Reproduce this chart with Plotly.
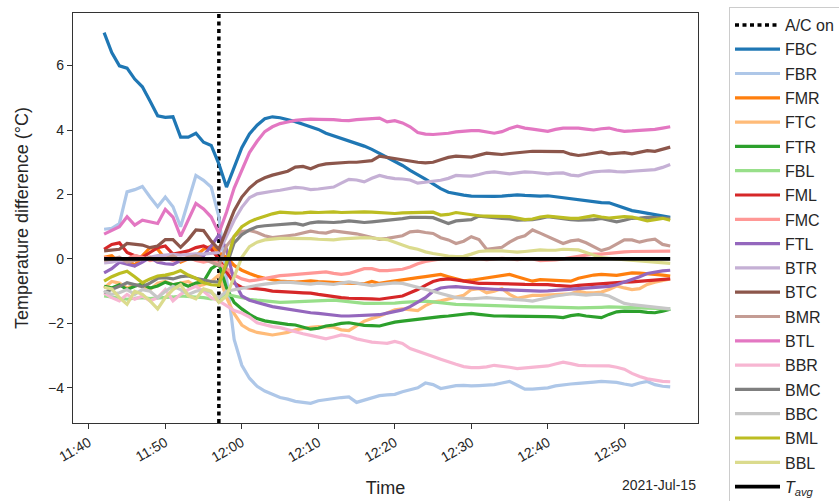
import pandas as pd
import plotly.graph_objects as go

# ---- data ----
start_time = "2021-07-15 11:42:00"
n_points = 75
ac_on_time = "2021-07-15 11:57:00"
date_label = "2021-Jul-15"

sensor_names = ["FBC", "FBR", "FMR", "FTC", "FTR", "FBL", "FML", "FMC", "FTL",
                "BTR", "BTC", "BMR", "BTL", "BBR", "BMC", "BBC", "BML", "BBL"]

sensor_colors = ["#1f77b4", "#aec7e8", "#ff7f0e", "#ffbb78", "#2ca02c", "#98df8a",
                 "#d62728", "#ff9896", "#9467bd", "#c5b0d5", "#8c564b", "#c49c94",
                 "#e377c2", "#f7b6d2", "#7f7f7f", "#c7c7c7", "#bcbd22", "#dbdb8d"]

tick_times = ["2021-07-15 11:40", "2021-07-15 11:50", "2021-07-15 12:00",
              "2021-07-15 12:10", "2021-07-15 12:20", "2021-07-15 12:30",
              "2021-07-15 12:40", "2021-07-15 12:50"]

FBC = [7.02, 6.4, 5.99, 5.92, 5.58, 5.34, 4.9, 4.44, 4.39, 4.41,
       3.78, 3.78, 3.9, 3.62, 3.52, 2.95, 2.23, 2.85, 3.45, 3.88,
       4.15, 4.35, 4.41, 4.38, 4.33, 4.26, 4.18, 4.1, 4.02, 3.9,
       3.82, 3.75, 3.68, 3.6, 3.5, 3.4, 3.28, 3.15, 3.04, 2.9,
       2.75, 2.62, 2.48, 2.33, 2.18, 2.07, 2.02, 1.98, 1.95, 1.94,
       1.94, 1.94, 1.95, 1.98, 1.99, 1.97, 1.95, 1.95, 1.96, 1.93,
       1.9, 1.86, 1.82, 1.79, 1.77, 1.75, 1.74, 1.66, 1.57, 1.5,
       1.46, 1.42, 1.37, 1.33, 1.29]
FBR = [0.92, 0.95, 1.1, 2.08, 2.15, 2.25, 1.92, 1.62, 1.92, 1.62,
       1.0, 1.8, 2.59, 2.44, 2.23, 1.31, -0.6, -2.5, -3.3, -3.7,
       -3.95, -4.1, -4.2, -4.3, -4.35, -4.42, -4.45, -4.48, -4.4, -4.36,
       -4.33, -4.3, -4.28, -4.45, -4.38, -4.3, -4.24, -4.22, -4.2, -4.12,
       -4.06, -4.0, -3.85, -3.9, -4.02, -3.98, -3.93, -3.92, -3.94, -3.93,
       -3.92, -3.9, -3.85, -3.8, -3.92, -4.04, -4.04, -4.03, -4.0, -3.94,
       -3.9, -3.88, -3.86, -3.85, -3.82, -3.8, -3.82, -3.83, -3.88, -3.92,
       -3.85, -3.8, -3.9, -3.95, -3.97]
FMR = [0.05, 0.1, -0.1, 0.0, -0.2, 0.1, 0.35, 0.3, 0.0, 0.1,
       -0.1, 0.0, 0.1, 0.3, 0.4, 0.2, 0.05, -0.2, -0.35, -0.45,
       -0.54, -0.6, -0.65, -0.69, -0.7, -0.72, -0.7, -0.68, -0.7, -0.72,
       -0.72, -0.74, -0.75, -0.76, -0.77, -0.7, -0.76, -0.72, -0.68, -0.66,
       -0.62, -0.58, -0.55, -0.52, -0.48, -0.55, -0.62, -0.68, -0.66, -0.62,
       -0.58, -0.55, -0.5, -0.48, -0.55, -0.62, -0.69, -0.64, -0.65, -0.66,
       -0.67, -0.69, -0.6, -0.54, -0.5, -0.48, -0.5, -0.51, -0.47, -0.43,
       -0.44, -0.45, -0.48, -0.5, -0.53]
FTC = [-0.9, -0.7, -0.75, -0.9, -0.8, -0.85, -0.95, -0.75, -0.7, -0.8,
       -0.75, -0.7, -0.85, -0.8, -0.7, -0.5, -1.2, -1.7, -2.05, -2.2,
       -2.28, -2.33, -2.36, -2.32, -2.28, -2.2, -2.15, -2.12, -2.1, -2.1,
       -2.12, -2.2, -2.22, -2.08, -1.93, -1.85, -1.78, -1.68, -1.58, -1.55,
       -1.58, -1.6, -1.45, -1.34, -1.3, -1.25, -1.18, -1.13, -0.95, -0.92,
       -1.05, -1.0, -0.92, -1.1, -1.22, -1.18, -1.13, -1.13, -1.12, -1.12,
       -1.1, -1.08, -1.0, -1.05, -1.05, -1.03, -0.95, -0.84, -0.9, -0.95,
       -0.92, -0.79, -0.72, -0.67, -0.62]
FTR = [-0.85, -0.9, -0.8, -0.95, -0.85, -0.78, -0.9, -0.84, -0.72, -0.8,
       -0.75, -0.85, -0.75, -0.7, -0.3, -0.15, -0.9, -1.35, -1.55, -1.72,
       -1.85, -1.92, -1.96, -2.0, -2.03, -2.05, -2.12, -2.18, -2.15, -2.08,
       -2.05, -2.0, -1.98, -2.02, -2.06, -2.07, -2.08, -2.02, -1.96, -1.93,
       -1.9, -1.86, -1.83, -1.81, -1.79, -1.77, -1.75, -1.72, -1.69, -1.72,
       -1.75, -1.77, -1.77, -1.77, -1.78, -1.77, -1.77, -1.78, -1.79, -1.8,
       -1.82, -1.76, -1.73, -1.77, -1.8, -1.82, -1.72, -1.64, -1.62, -1.62,
       -1.63, -1.66, -1.67, -1.62, -1.56]
FBL = [-1.15, -1.18, -1.2, -1.25, -1.22, -1.2, -1.23, -1.22, -1.2, -1.18,
       -1.15, -1.16, -1.18, -1.2, -1.24, -1.22, -1.1, -1.15, -1.22, -1.25,
       -1.28, -1.3, -1.33, -1.35, -1.34, -1.33, -1.31, -1.3, -1.29, -1.28,
       -1.28, -1.3, -1.33, -1.36, -1.38, -1.38, -1.38, -1.38, -1.37, -1.35,
       -1.33, -1.32, -1.31, -1.33, -1.36, -1.39, -1.41, -1.42, -1.43, -1.44,
       -1.45, -1.46, -1.47, -1.48, -1.49, -1.49, -1.49, -1.49, -1.49, -1.5,
       -1.5, -1.51, -1.52, -1.52, -1.51, -1.5, -1.49, -1.5, -1.51, -1.52,
       -1.53, -1.54, -1.55, -1.55, -1.55]
FML = [0.3, 0.45, 0.5, 0.2, 0.1, 0.05, 0.2, 0.35, 0.4, 0.15,
       0.2, 0.25, 0.35, 0.4, 0.3, 0.0, -0.4, -0.75, -0.88, -0.9,
       -0.92, -0.95, -1.0, -1.02, -1.03, -1.04, -1.05, -1.06, -1.1, -1.14,
       -1.16, -1.2, -1.22, -1.22, -1.23, -1.24, -1.25, -1.22, -1.2, -1.15,
       -1.05, -0.95, -0.82, -0.7, -0.64, -0.62, -0.65, -0.69, -0.73, -0.76,
       -0.76, -0.76, -0.76, -0.77, -0.78, -0.79, -0.79, -0.79, -0.8, -0.82,
       -0.84, -0.85, -0.82, -0.8, -0.79, -0.78, -0.76, -0.74, -0.72, -0.71,
       -0.69, -0.67, -0.65, -0.64, -0.62]
FMC = [0.05, 0.0, -0.05, 0.0, 0.1, 0.05, -0.05, 0.0, 0.05, -0.05,
       0.0, 0.05, -0.05, -0.1, -0.05, -0.15, -0.3, -0.5, -0.62, -0.68,
       -0.65, -0.6, -0.55, -0.52, -0.5, -0.48, -0.45, -0.43, -0.42, -0.4,
       -0.45, -0.48, -0.45, -0.38, -0.3, -0.3, -0.36, -0.36, -0.34, -0.32,
       -0.25, -0.15, -0.08, -0.03, 0.0, 0.02, 0.02, 0.0, 0.02, 0.0,
       -0.02, 0.0, 0.02, 0.0, -0.02, 0.0, 0.0, -0.05, -0.05, -0.03,
       0.0, 0.05, 0.08, 0.12, 0.15, 0.15, 0.18, 0.2, 0.22, 0.23,
       0.23, 0.24, 0.24, 0.24, 0.24]
FTL = [-0.43, -0.3, -0.1, -0.15, -0.22, -0.1, 0.05, -0.1, -0.15, -0.17,
       -0.05, 0.0, 0.05, 0.1, 0.4, 0.75, 0.3, -0.7, -1.15, -1.28,
       -1.35, -1.42, -1.48, -1.52, -1.56, -1.6, -1.64, -1.67, -1.69, -1.72,
       -1.75, -1.77, -1.77, -1.76, -1.76, -1.75, -1.73, -1.68, -1.63, -1.58,
       -1.48, -1.35, -1.2, -1.0, -0.9, -0.87, -0.86, -0.88, -0.9, -0.92,
       -0.93, -0.94, -0.95, -0.96, -0.97, -0.99, -1.0, -1.0, -0.99, -0.97,
       -0.95, -0.94, -0.92, -0.9, -0.88, -0.87, -0.85, -0.8, -0.72, -0.64,
       -0.55, -0.45, -0.4, -0.37, -0.35]
BTR = [-0.12, -0.1, -0.05, -0.05, 0.0, -0.02, 0.05, 0.1, 0.12, 0.14,
       0.12, 0.15, 0.16, 0.15, 0.18, 0.2, 0.7, 1.2, 1.6, 1.9,
       2.02, 2.07, 2.1, 2.13, 2.18, 2.22, 2.2, 2.15, 2.17, 2.2,
       2.23, 2.35, 2.47, 2.45, 2.39, 2.5, 2.59, 2.53, 2.49, 2.48,
       2.45, 2.35, 2.38, 2.42, 2.44, 2.5, 2.59, 2.58, 2.57, 2.62,
       2.68, 2.7, 2.66, 2.64, 2.67, 2.7, 2.69, 2.66, 2.64, 2.66,
       2.67, 2.6, 2.58, 2.65, 2.7, 2.72, 2.73, 2.71, 2.7, 2.72,
       2.74, 2.76, 2.77, 2.84, 2.93]
BTC = [0.25, 0.27, 0.3, 0.48, 0.46, 0.43, 0.35, 0.4, 0.6, 0.6,
       0.36, 0.6, 0.9, 0.88, 0.55, 0.3, 0.9, 1.5, 1.92, 2.2,
       2.4, 2.52, 2.6, 2.66, 2.72, 2.85, 2.87, 2.8, 2.9, 2.95,
       2.97, 2.98, 3.0, 3.0, 3.02, 3.05, 3.19, 3.15, 3.11, 3.07,
       3.03, 3.0, 2.98, 3.0, 3.08, 3.15, 3.19, 3.17, 3.16, 3.22,
       3.28, 3.26, 3.24, 3.27, 3.3, 3.32, 3.34, 3.34, 3.33, 3.33,
       3.33, 3.25, 3.21, 3.24, 3.28, 3.32, 3.26, 3.28, 3.3, 3.26,
       3.32, 3.36, 3.34, 3.4, 3.47]
BMR = [-0.05, 0.0, 0.05, -0.1, -0.05, 0.0, 0.05, -0.05, 0.0, 0.1,
       -0.05, 0.05, 0.1, 0.0, -0.1, -0.2, 0.4, 0.7, 0.85, 0.88,
       0.82, 0.72, 0.66, 0.68, 0.72, 0.75, 0.8, 0.86, 0.82, 0.8,
       0.87, 0.85, 0.81, 0.78, 0.72, 0.66, 0.61, 0.64, 0.69, 0.72,
       0.84, 0.86, 0.82, 0.79, 0.66, 0.59, 0.48, 0.55, 0.69, 0.6,
       0.3, 0.33, 0.36, 0.52, 0.65, 0.72, 0.9, 0.8, 0.69, 0.58,
       0.48, 0.56, 0.59, 0.5, 0.38, 0.26, 0.33, 0.45, 0.59, 0.59,
       0.52, 0.58, 0.61, 0.45, 0.4]
BTL = [0.77, 0.88, 1.0, 1.31, 1.05, 1.2, 1.15, 1.1, 1.54, 1.3,
       0.7, 1.2, 1.72, 1.55, 1.3, 0.8, 1.45, 2.2, 2.75, 3.3,
       3.65, 3.95, 4.1, 4.2, 4.25, 4.3, 4.32, 4.34, 4.33, 4.33,
       4.32, 4.3, 4.29, 4.32, 4.34, 4.35, 4.37, 4.25, 4.29, 4.22,
       4.1, 3.92, 3.87, 3.86, 3.87, 3.9, 3.94, 3.97, 3.98, 3.98,
       3.94, 3.9, 3.95, 4.05, 4.12, 4.06, 4.03, 4.0, 3.96, 4.02,
       4.06, 4.06, 4.06, 4.03, 4.0, 4.04, 4.06, 4.0, 3.96, 3.97,
       3.98, 4.0, 4.02, 4.06, 4.1]
BBR = [-1.05, -1.2, -1.3, -1.1, -1.25, -1.15, -1.3, -1.2, -0.95, -1.3,
       -1.1, -0.95, -0.85, -1.0, -1.2, -1.3, -1.45, -1.6, -1.68, -1.8,
       -1.98, -2.05, -2.1, -2.13, -2.2, -2.26, -2.32, -2.37, -2.43, -2.48,
       -2.42, -2.36, -2.4, -2.48, -2.53, -2.58, -2.6, -2.62, -2.56, -2.62,
       -2.78, -2.87, -2.95, -3.03, -3.11, -3.2, -3.27, -3.34, -3.37, -3.37,
       -3.35, -3.3, -3.32, -3.36, -3.4, -3.38, -3.37, -3.34, -3.32, -3.26,
       -3.2, -3.25, -3.3, -3.31, -3.32, -3.32, -3.32, -3.36, -3.42, -3.55,
       -3.65, -3.72, -3.76, -3.8, -3.81]
BMC = [-1.04, -0.95, -0.85, -0.74, -0.8, -0.86, -0.75, -0.6, -0.58, -0.62,
       -0.55, -0.53, -0.6, -0.65, -0.7, -0.72, -0.2, 0.5, 0.75, 0.9,
       1.0, 1.03, 1.05, 1.07, 1.08, 1.1, 1.05, 1.12, 1.15, 1.14,
       1.13, 1.15, 1.18, 1.16, 1.13, 1.15, 1.17, 1.19, 1.22, 1.25,
       1.29, 1.3, 1.29, 1.28, 1.2, 1.1, 1.18, 1.2, 1.22, 1.33,
       1.3, 1.27, 1.26, 1.24, 1.2, 1.21, 1.22, 1.26, 1.31, 1.28,
       1.24, 1.22, 1.2, 1.2, 1.22, 1.26, 1.2, 1.15, 1.2, 1.26,
       1.27, 1.29, 1.28, 1.27, 1.26]
BBC = [-1.0, -1.1, -1.05, -0.95, -1.1, -0.95, -1.0, -1.2, -1.0, -0.85,
       -0.95, -1.1, -1.0, -0.95, -1.05, -1.2, -1.0, -0.95, -0.9, -0.85,
       -0.82, -0.78, -0.75, -0.73, -0.72, -0.74, -0.76, -0.78, -0.75, -0.77,
       -0.79, -0.75, -0.71, -0.75, -0.8, -0.83, -0.79, -0.76, -0.74, -0.76,
       -0.82, -0.88, -0.92, -1.0, -1.07, -1.14, -1.2, -1.22, -1.24, -1.22,
       -1.2, -1.22, -1.23, -1.24, -1.26, -1.28, -1.31, -1.25, -1.2, -1.15,
       -1.12, -1.08, -1.1, -1.12, -1.1, -1.1, -1.15, -1.27, -1.38, -1.42,
       -1.45, -1.47, -1.5, -1.52, -1.55]
BML = [-0.69, -0.55, -0.45, -0.38, -0.55, -0.74, -0.62, -0.53, -0.5, -0.45,
       -0.36, -0.5, -0.6, -0.74, -0.8, -0.82, -0.1, 0.7, 1.0, 1.15,
       1.25, 1.33, 1.4, 1.45, 1.43, 1.42, 1.43, 1.45, 1.44, 1.45,
       1.46, 1.44, 1.45, 1.46, 1.46, 1.45, 1.44, 1.43, 1.41, 1.43,
       1.44, 1.45, 1.46, 1.45, 1.36, 1.38, 1.44, 1.4, 1.36, 1.34,
       1.33, 1.32, 1.31, 1.31, 1.27, 1.22, 1.24, 1.3, 1.33, 1.3,
       1.28, 1.26, 1.26, 1.3, 1.34, 1.3, 1.27, 1.29, 1.31, 1.3,
       1.24, 1.18, 1.22, 1.26, 1.2]
BBL = [-0.88, -0.93, -1.2, -1.41, -1.0, -1.1, -1.3, -1.55, -1.2, -0.95,
       -0.8, -1.14, -1.24, -0.93, -1.0, -1.35, -1.15, -0.55, 0.05, 0.38,
       0.52, 0.59, 0.62, 0.64, 0.64, 0.64, 0.64, 0.63, 0.61, 0.6,
       0.59, 0.62, 0.64, 0.65, 0.66, 0.65, 0.63, 0.6, 0.52, 0.44,
       0.35, 0.3, 0.22, 0.17, 0.12, 0.09, 0.07, 0.08, 0.15, 0.23,
       0.25, 0.26, 0.25, 0.23, 0.21, 0.23, 0.26, 0.28, 0.27, 0.27,
       0.3, 0.3, 0.28, 0.2, 0.11, 0.04, 0.02, 0.0, -0.02, -0.04,
       -0.07, -0.09, -0.11, -0.13, -0.14]
T_AVG = [0.0] * n_points

series_values = [FBC, FBR, FMR, FTC, FTR, FBL, FML, FMC, FTL,
                 BTR, BTC, BMR, BTL, BBR, BMC, BBC, BML, BBL]

y_range = [-5.09, 7.63]
x_range = ["2021-07-15 11:37:56", "2021-07-15 12:59:38"]

# ---- figure ----
times = pd.date_range(start_time, periods=n_points, freq="1min")

FONT = "Liberation Sans, Arial, sans-serif"
TXT = "#262626"
AX = "#333333"

fig = go.Figure()

fig.add_trace(go.Scatter(
    x=[ac_on_time, ac_on_time], y=y_range, mode="lines", name="A/C on",
    line=dict(color="black", width=3.5, dash="4px,3.5px"),
    legendgroup="ac"))

for name, color, vals in zip(sensor_names, sensor_colors, series_values):
    fig.add_trace(go.Scatter(
        x=times, y=vals, mode="lines", name=name,
        line=dict(color=color, width=3.2), legendgroup=name))

fig.add_trace(go.Scatter(
    x=times, y=T_AVG, mode="lines", name="<i>T</i><sub><i>avg</i></sub>",
    line=dict(color="black", width=3.8), legendgroup="tavg"))

fig.update_layout(
    width=839, height=501,
    margin=dict(l=73, r=141, t=13, b=78),
    paper_bgcolor="white", plot_bgcolor="white",
    font=dict(family=FONT, size=14, color=TXT),
    showlegend=True,
    legend=dict(
        xref="container", yref="container",
        x=729 / 839, y=1 - 7 / 501, xanchor="left", yanchor="top",
        bgcolor="white", bordercolor="#cccccc", borderwidth=1,
        font=dict(family=FONT, size=16, color=TXT),
        traceorder="grouped", tracegroupgap=0.5, itemwidth=45,
        maxheight=2000,
    ),
    annotations=[dict(
        text=date_label, xref="paper", yref="paper", x=1.0, y=-0.152,
        xanchor="right", yanchor="middle", showarrow=False,
        font=dict(family=FONT, size=14, color=TXT))],
)

fig.update_xaxes(
    type="date", range=x_range, tickformat="%H:%M",
    tickmode="array", tickvals=tick_times, tickangle=-30,
    showgrid=False, zeroline=False, automargin=False,
    showline=True, linecolor=AX, linewidth=1.3, mirror=True,
    ticks="outside", ticklen=5, tickwidth=1.2, tickcolor=AX,
    tickfont=dict(family=FONT, size=14, color=TXT),
    title=dict(text="Time", font=dict(family=FONT, size=18, color=TXT), standoff=17),
)
fig.update_yaxes(
    range=y_range, tickmode="array", tickvals=[-4, -2, 0, 2, 4, 6],
    ticktext=["\u22124", "\u22122", "0", "2", "4", "6"],
    showgrid=False, zeroline=False, automargin=False,
    showline=True, linecolor=AX, linewidth=1.3, mirror=True,
    ticks="outside", ticklen=5, tickwidth=1.2, tickcolor=AX,
    tickfont=dict(family=FONT, size=14, color=TXT),
    title=dict(text="Temperature difference (°C)",
               font=dict(family=FONT, size=18, color=TXT), standoff=14),
)

fig.write_html("out.html")
